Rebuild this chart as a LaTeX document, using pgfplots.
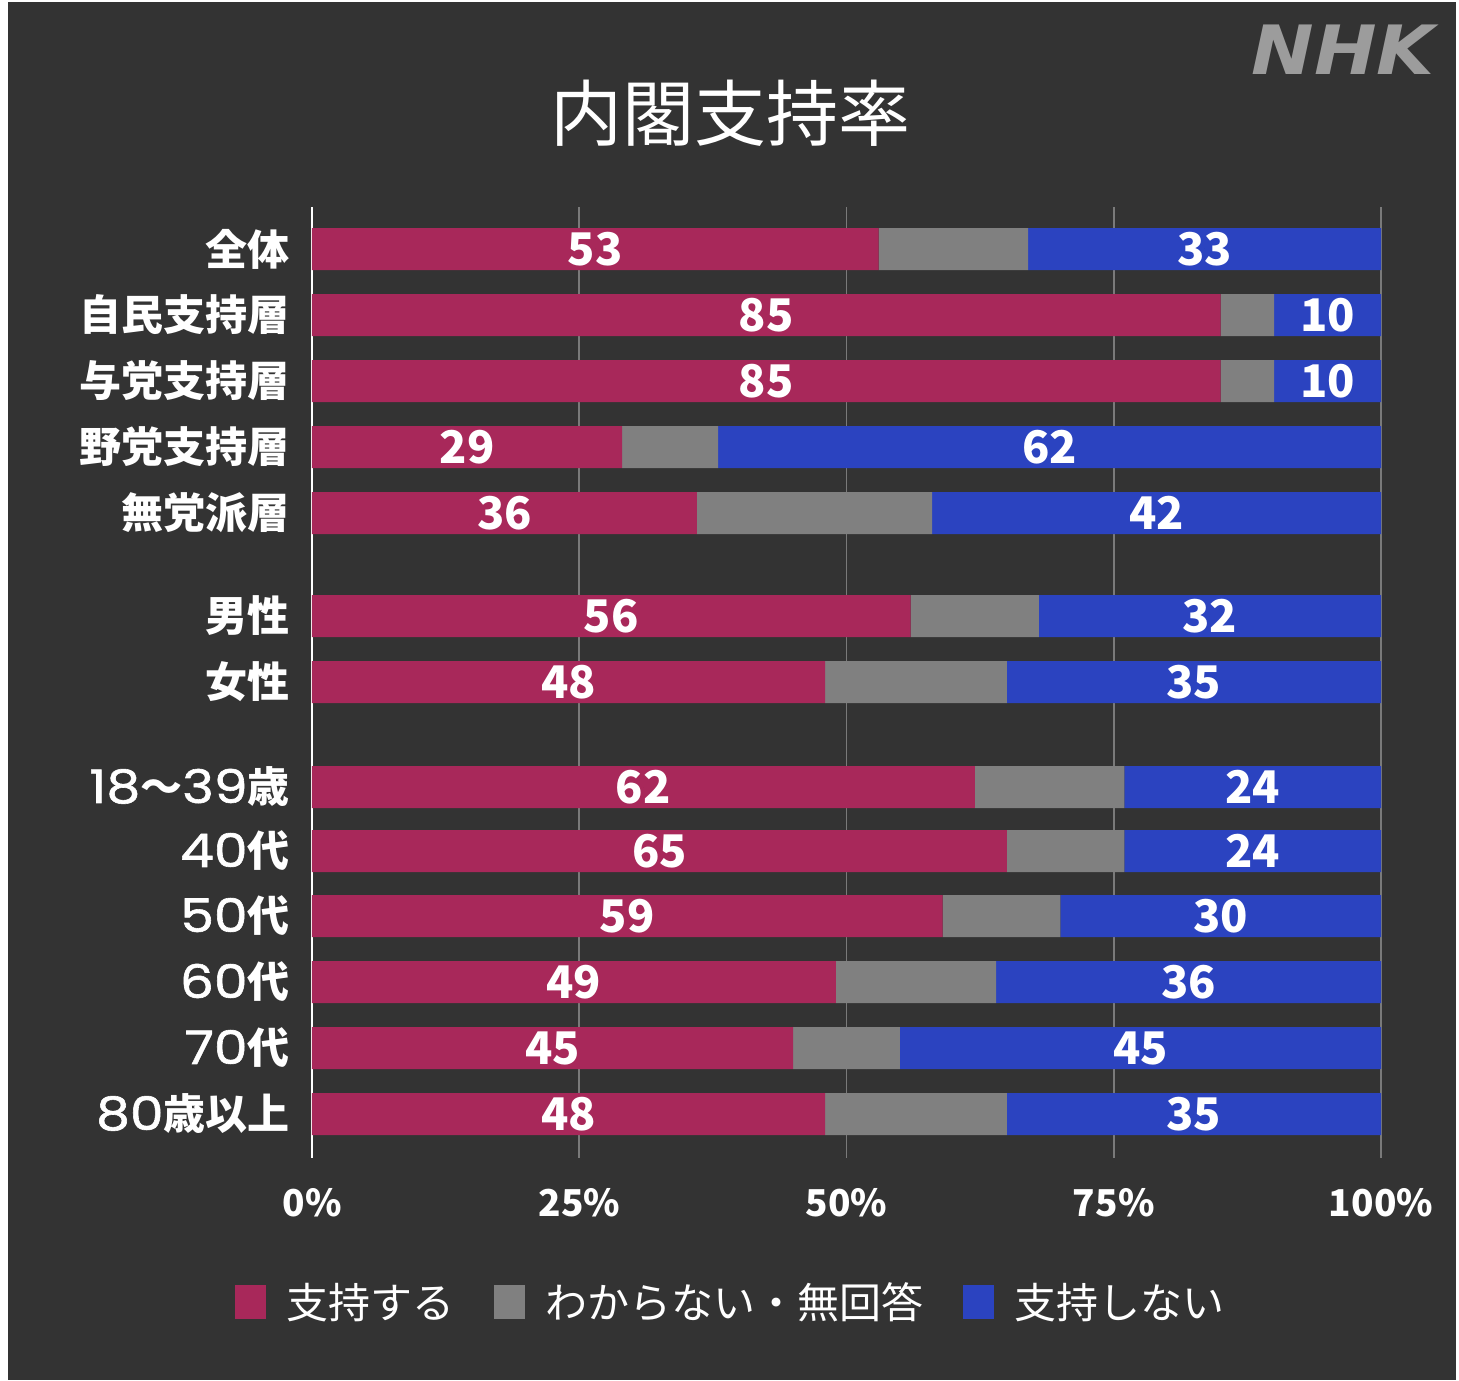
\documentclass[border=0pt]{standalone}
\usepackage{fontspec}
\setmainfont{Noto Sans CJK JP}
\newfontfamily\nhkfont{DejaVu Sans}
\newfontfamily\dg{Poppins}[Scale=1.1, FakeStretch=1.16, FakeBold=1.3]
\usepackage{pgfplots}
\pgfplotsset{compat=1.18}
\usepackage{pgfplotstable}
\definecolor{bg}{HTML}{333333}
\definecolor{cred}{HTML}{A8285A}
\definecolor{cgray}{HTML}{808080}
\definecolor{cblue}{HTML}{2B43C0}
\definecolor{gridc}{HTML}{7A7A7A}
\definecolor{nhk}{HTML}{9C9C9C}
\pgfplotsset{sq legend/.style={legend image code/.code={\fill[##1] (0pt,-8.5pt) rectangle (15.5pt,8.5pt);}}}

\pgfplotstableread{
y sup dk nos
249 53 14 33
315 85 5 10
381 85 5 10
447 29 9 62
513 36 22 42
616 56 12 32
682 48 17 35
787 62 14 24
851 65 11 24
916 59 11 30
982 49 15 36
1048 45 10 45
1114 48 17 35
}\data

\begin{document}
\begin{tikzpicture}
\begin{scope}[x=0.5pt,y=-0.5pt,xshift=-156pt,yshift=579pt]
\fill[white] (0,0) rectangle (1459,1380);
\fill[bg] (8,2) rectangle (1456,1380);
\node[text=white, font=\fontsize{36pt}{40pt}\selectfont] at (730,113) {内閣支持率};
\node[text=nhk, font=\nhkfont\bfseries\itshape\fontsize{34pt}{40pt}\selectfont, xscale=1.1] at (1343,50) {NHK};
\end{scope}

\begin{axis}[
  at={(0,0)}, anchor=south west,
  scale only axis, width=534.5pt, height=475.5pt,
  xmin=0, xmax=100, ymin=207, ymax=1158, y dir=reverse,
  xbar stacked, bar width=21pt,
  axis line style={draw=none}, major tick length=0pt,
  xtick={0,25,50,75,100}, xticklabels={0\%,25\%,50\%,75\%,100\%},
  xmajorgrids, major grid style={gridc, line width=0.8pt},
  extra x ticks={0}, extra x tick labels={},
  extra x tick style={xmajorgrids=true, major grid style={white, line width=1.2pt}},
  xticklabel style={text=white, font=\bfseries\fontsize{18.5pt}{20pt}\selectfont, anchor=center, yshift=-22.5pt},
  ytick={249,315,381,447,513,616,682,787,851,916,982,1048,1114},
  yticklabels={全体,自民支持層,与党支持層,野党支持層,無党派層,男性,女性,{{\dg\mdseries 18}〜{\dg\mdseries 39}歳},{{\dg\mdseries 40}代},{{\dg\mdseries 50}代},{{\dg\mdseries 60}代},{{\dg\mdseries 70}代},{{\dg\mdseries 80}歳以上}},
  yticklabel style={text=white, font=\bfseries\fontsize{21pt}{23pt}\selectfont, anchor=east, inner sep=0pt, xshift=-11pt},
  legend columns=3,
  legend style={at={(0.391,-0.1514)}, anchor=center, draw=none, fill=none, text=white,
    font=\fontsize{21pt}{23pt}\selectfont, inner sep=0pt, nodes={inner sep=0pt},
    /tikz/every even column/.append style={column sep=20pt},
    /tikz/every odd column/.append style={column sep=10pt}},
]
\addplot[fill=cred, draw=none, sq legend] table[x=sup, y=y]{\data};
\addplot[fill=cgray, draw=none, sq legend] table[x=dk, y=y]{\data};
\addplot[fill=cblue, draw=none, sq legend] table[x=nos, y=y]{\data};
\legend{支持する,わからない・無回答,支持しない}
\end{axis}

\begin{axis}[
  at={(0,0)}, anchor=south west,
  scale only axis, width=534.5pt, height=475.5pt,
  xmin=0, xmax=100, ymin=207, ymax=1158, y dir=reverse,
  hide axis,
  /pgf/number format/assume math mode=true,
  nodes near coords, point meta=explicit,
  nodes near coords style={text=white, font=\bfseries\fontsize{22.5pt}{24pt}\selectfont, anchor=center, inner sep=0pt},
]
\addplot[only marks, mark=*, mark size=0pt, mark options={draw=none, fill=none}]
  table[x expr=\thisrow{sup}/2, y=y, meta=sup]{\data};
\addplot[only marks, mark=*, mark size=0pt, mark options={draw=none, fill=none}]
  table[x expr=\thisrow{sup}+\thisrow{dk}+\thisrow{nos}/2, y=y, meta=nos]{\data};
\end{axis}
\end{tikzpicture}
\end{document}
